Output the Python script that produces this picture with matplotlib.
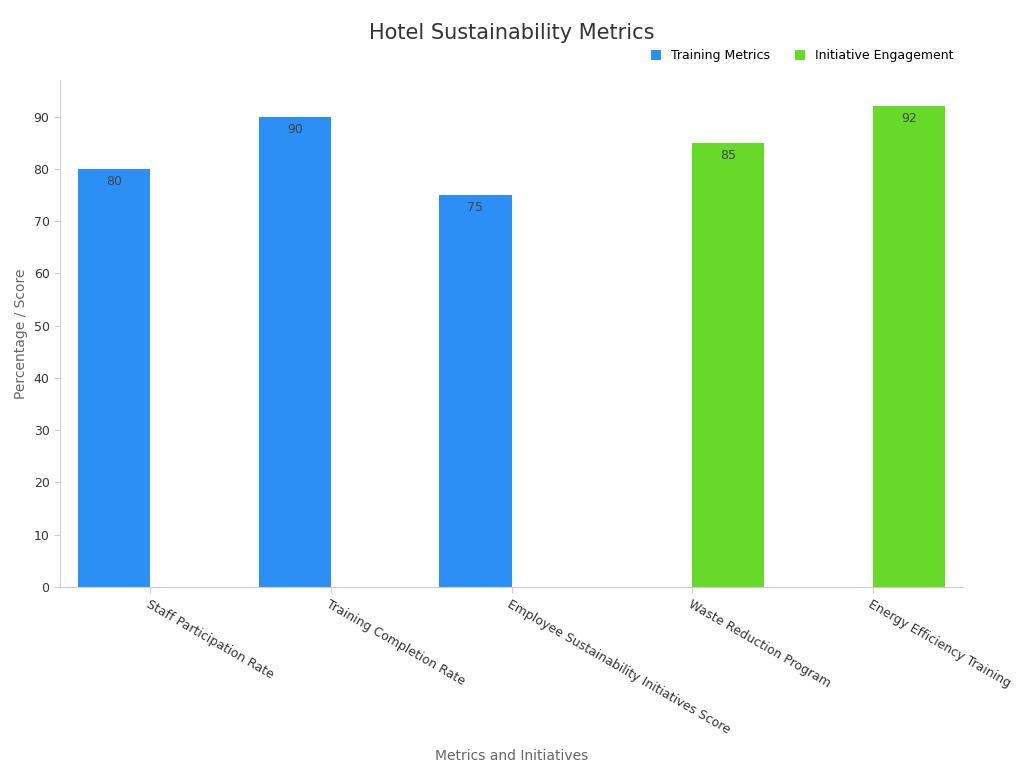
import matplotlib
matplotlib.use("Agg")
import matplotlib.pyplot as plt
import numpy as np

categories = ["Staff Participation Rate", "Training Completion Rate",
              "Employee Sustainability Initiatives Score",
              "Waste Reduction Program", "Energy Efficiency Training"]
training = [80, 90, 75, None, None]
initiative = [None, None, None, 85, 92]

fig = plt.figure(figsize=(10.24, 7.68), dpi=100)
ax = fig.add_axes([60/1024, 1-587/768, 903/1024, 507/768])
x = np.arange(len(categories))
w = 0.4
for vals, off, col, name in [(training, -0.2, "#2b8ff5", "Training Metrics"),
                             (initiative, 0.2, "#67d928", "Initiative Engagement")]:
    xs = [xi + off for xi, v in zip(x, vals) if v is not None]
    vs = [v for v in vals if v is not None]
    ax.bar(xs, vs, w, color=col, label=name)
    for xi, v in zip(xs, vs):
        ax.text(xi, v - 1.2, str(v), ha="center", va="top", fontsize=9, color="#444444")

ax.set_xlim(-0.5, len(categories) - 0.5)
ax.set_ylim(0, 97)
ax.set_yticks(range(0, 91, 10))
ax.set_xticks(x)
ax.set_xticklabels(categories, rotation=-30, ha="left", rotation_mode="anchor", fontsize=9, color="#333333")
ax.tick_params(axis="y", labelsize=9, colors="#333333", length=4)
ax.tick_params(axis="x", length=4, color="#cccccc")
for s in ["top", "right"]:
    ax.spines[s].set_visible(False)
ax.spines["left"].set_color("#cccccc")
ax.spines["bottom"].set_color("#cccccc")
ax.tick_params(axis="y", color="#cccccc")
ax.set_ylabel("Percentage / Score", fontsize=10, color="#666666")
ax.set_xlabel("Metrics and Initiatives", fontsize=10, color="#666666", labelpad=-10)
ax.xaxis.set_label_coords(0.5, -0.32)
fig.text(0.5, 1-33/768, "Hotel Sustainability Metrics", ha="center", va="center", fontsize=15, color="#333333")
fig.legend(loc="center right", bbox_to_anchor=(965/1024, 1-56/768), ncol=2, frameon=False,
           fontsize=9, handlelength=0.8, handleheight=0.8, columnspacing=2)
fig.savefig("out.png", dpi=100)
